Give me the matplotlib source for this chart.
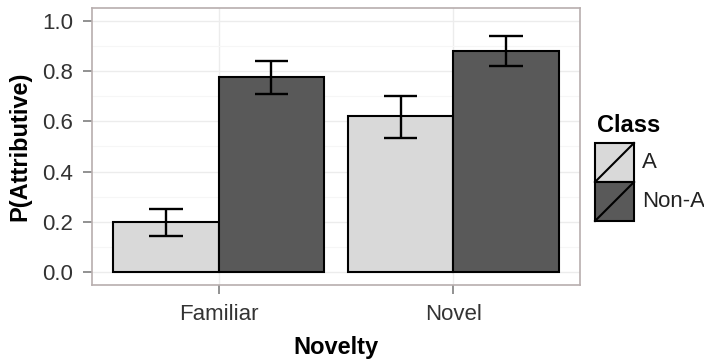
import matplotlib.pyplot as plt
from matplotlib.patches import Rectangle
from matplotlib.lines import Line2D
import numpy as np

plt.rcParams['font.family'] = ['Liberation Sans', 'DejaVu Sans']

novelty = ['Familiar', 'Novel']
classes = ['A', 'Non-A']
colors = ['#d9d9d9', '#595959']
means = {'A': [0.20, 0.62], 'Non-A': [0.775, 0.88]}
lower = {'A': [0.145, 0.535], 'Non-A': [0.71, 0.82]}
upper = {'A': [0.25, 0.70], 'Non-A': [0.84, 0.94]}

fig = plt.figure(figsize=(7.04, 3.6), dpi=100)
ax = fig.add_axes([92/704, 1-285/360, 488/704, 277/360])

x = np.arange(1, len(novelty) + 1)
w = 0.45
for i, c in enumerate(classes):
    pos = x + (i - 0.5) * w
    ax.bar(pos, means[c], width=w, color=colors[i], edgecolor='black', linewidth=1.5, zorder=3)
    ax.vlines(pos, lower[c], upper[c], color='black', linewidth=1.7, zorder=4)
    ax.hlines(lower[c], pos - 0.072, pos + 0.072, color='black', linewidth=1.7, zorder=4)
    ax.hlines(upper[c], pos - 0.072, pos + 0.072, color='black', linewidth=1.7, zorder=4)

ax.set_xlim(0.46, 2.54)
ax.set_ylim(-0.05, 1.05)
ax.set_xticks(x)
ax.set_xticklabels(novelty, fontsize=16)
ax.set_yticks(np.arange(0, 1.01, 0.2))
ax.set_yticklabels(['%.1f' % v for v in np.arange(0, 1.01, 0.2)], fontsize=16)
ax.set_yticks(np.arange(0.1, 1.0, 0.2), minor=True)
ax.grid(True, which='major', color='#ececec', linewidth=1.0, zorder=0)
ax.grid(True, which='minor', axis='y', color='#f6f6f6', linewidth=0.8, zorder=0)
ax.tick_params(axis='both', which='major', length=6.5, width=1.2, color='#7f7f7f', colors='#333333')
ax.tick_params(axis='x', pad=7)
ax.tick_params(axis='y', pad=7)
ax.tick_params(which='minor', length=0)
for s in ax.spines.values():
    s.set_color('#b8aeae')
    s.set_linewidth(1.2)
ax.set_ylabel('P(Attributive)', fontsize=17, fontweight='bold', labelpad=8)
ax.set_xlabel('Novelty', fontsize=17, fontweight='bold', labelpad=8)

# legend drawn in figure pixels
fig.text(597/704, 1-126/360, 'Class', fontsize=17, fontweight='bold', va='center', ha='left')
kx, kw, kh = 595, 39, 39
for i, c in enumerate(classes):
    top = 143 + i * kh
    fig.patches.append(Rectangle((kx/704, 1-(top+kh)/360), kw/704, kh/360,
                                 transform=fig.transFigure, facecolor=colors[i],
                                 edgecolor='black', linewidth=1.5))
    fig.lines.append(Line2D([kx/704, (kx+kw)/704], [1-(top+kh)/360, 1-top/360],
                            transform=fig.transFigure, color='black', linewidth=1.5))
    fig.text(642/704, 1-(top+kh/2)/360, c, fontsize=16, va='center', ha='left', color='#222222')

fig.savefig('out.png', dpi=100)
